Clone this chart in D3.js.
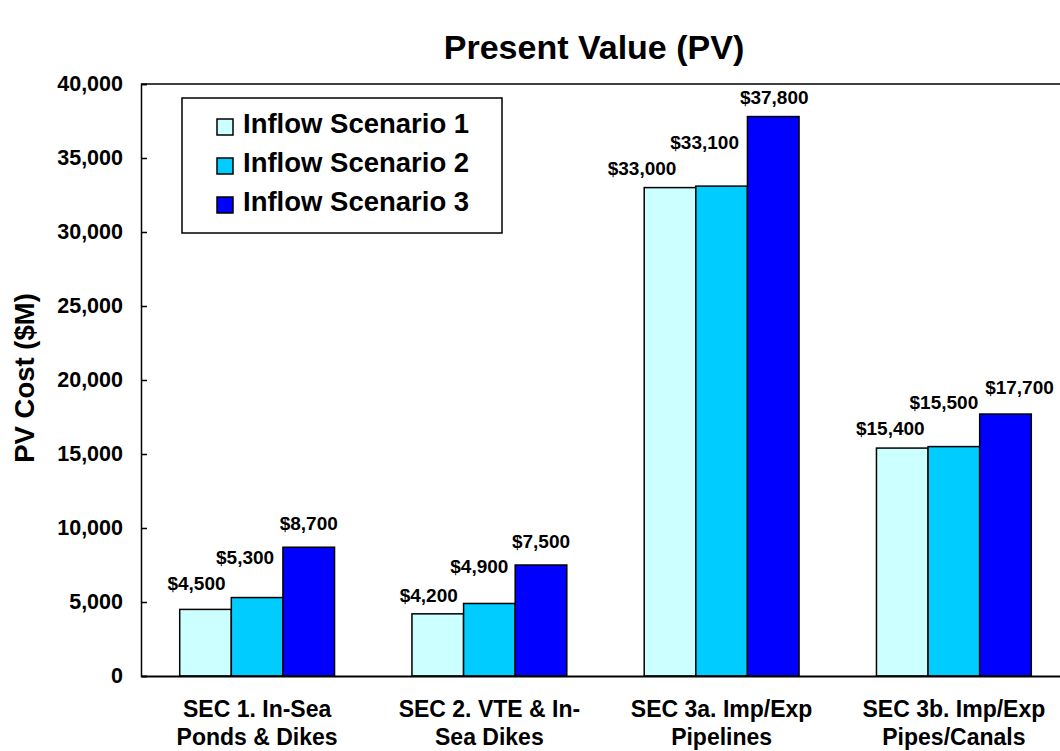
<!DOCTYPE html>
<html>
<head>
<meta charset="utf-8">
<script src="https://cdn.jsdelivr.net/npm/d3@7"></script>
<style>
  body { margin: 0; background: #fff; }
  svg { display: block; font-family: Arial, "Liberation Sans", sans-serif; font-weight: bold; }
</style>
</head>
<body>
<div id="chart"></div>
<script>
// data
var categories = ["SEC 1. In-Sea Ponds & Dikes", "SEC 2. VTE & In-Sea Dikes", "SEC 3a. Imp/Exp Pipelines", "SEC 3b. Imp/Exp Pipes/Canals"];
var categoryLines = [["SEC 1. In-Sea", "Ponds & Dikes"], ["SEC 2. VTE & In-", "Sea Dikes"], ["SEC 3a. Imp/Exp", "Pipelines"], ["SEC 3b. Imp/Exp", "Pipes/Canals"]];
var series = ["Inflow Scenario 1", "Inflow Scenario 2", "Inflow Scenario 3"];
var scenario1 = [4500, 4200, 33000, 15400];
var scenario2 = [5300, 4900, 33100, 15500];
var scenario3 = [8700, 7500, 37800, 17700];
var yTicks = [0, 5000, 10000, 15000, 20000, 25000, 30000, 35000, 40000];

var values = [scenario1, scenario2, scenario3];
var colors = ["#CCFFFF", "#00CCFF", "#0000FF"];

// label nudges (dx from bar centre, dy from bar top), as placed in the original
var labelNudge = [
  [[-9, -19], [-12, -34], [0, -17]],
  [[-9, -12], [-10, -30], [0, -17]],
  [[-28, -13], [-17, -37], [1, -13]],
  [[-12, -13], [-10, -38], [14, -20]]
];

var width = 1060;
var height = 751;
var plotLeft = 141, plotRight = 1070, plotTop = 84, plotBottom = 676;

var svg = d3.select("#chart")
  .append("svg")
  .attr("width", width)
  .attr("height", height);

var x = d3.scaleBand()
  .domain(categories)
  .range([plotLeft, plotRight])
  .paddingInner(1 / 3)
  .paddingOuter(1 / 6);

var xs = d3.scaleBand()
  .domain(series)
  .range([0, x.bandwidth()]);

var y = d3.scaleLinear()
  .domain([0, 40000])
  .range([plotBottom, plotTop]);

// title
svg.append("text")
  .attr("x", 594)
  .attr("y", 59)
  .attr("text-anchor", "middle")
  .style("font-size", "34px")
  .text("Present Value (PV)");

// frame: top line
svg.append("line")
  .attr("x1", plotLeft).attr("x2", plotRight)
  .attr("y1", plotTop).attr("y2", plotTop)
  .attr("stroke", "#000")
  .attr("stroke-width", 1.5);

// bars
var groups = svg.append("g")
  .selectAll("g")
  .data(categories)
  .enter()
  .append("g")
  .attr("transform", function (d) { return "translate(" + x(d) + ",0)"; });

var cells = function (d, i) {
  return series.map(function (s, j) { return { s: s, j: j, i: i, v: values[j][i] }; });
};

groups.selectAll("rect")
  .data(cells)
  .enter()
  .append("rect")
  .attr("x", function (d) { return xs(d.s); })
  .attr("y", function (d) { return y(d.v); })
  .attr("width", xs.bandwidth())
  .attr("height", function (d) { return y(0) - y(d.v); })
  .attr("fill", function (d) { return colors[d.j]; })
  .attr("stroke", "#000")
  .attr("stroke-width", 1.5);

groups.selectAll("text.val")
  .data(cells)
  .enter()
  .append("text")
  .attr("class", "val")
  .attr("x", function (d) { return xs(d.s) + xs.bandwidth() / 2 + labelNudge[d.i][d.j][0]; })
  .attr("y", function (d) { return y(d.v) + labelNudge[d.i][d.j][1]; })
  .attr("text-anchor", "middle")
  .style("font-size", "19px")
  .text(function (d) { return "$" + d3.format(",")(d.v); });

// y axis
var yAxis = d3.axisLeft(y)
  .tickValues(yTicks)
  .tickFormat(d3.format(","))
  .tickSize(-6)
  .tickPadding(18);

var gy = svg.append("g")
  .attr("transform", "translate(" + plotLeft + ",0)")
  .call(yAxis);
gy.select(".domain").attr("stroke-width", 1.5);
gy.selectAll(".tick line").attr("stroke-width", 1.5);
gy.selectAll(".tick text")
  .attr("fill", "#000")
  .style("font-family", "Arial, 'Liberation Sans', sans-serif")
  .style("font-weight", "bold")
  .style("font-size", "21.5px");

// x axis baseline and category labels
var xAxis = d3.axisBottom(x).tickSize(0).tickFormat("");
var gx = svg.append("g")
  .attr("transform", "translate(0," + plotBottom + ")")
  .call(xAxis);
gx.select(".domain").attr("stroke-width", 2);

categories.forEach(function (c, i) {
  var t = svg.append("text")
    .attr("text-anchor", "middle")
    .style("font-size", "23px");
  categoryLines[i].forEach(function (line, k) {
    t.append("tspan")
      .attr("x", x(c) + x.bandwidth() / 2)
      .attr("y", 717 + k * 27.5)
      .text(line);
  });
});

// y axis title
svg.append("text")
  .attr("transform", "translate(34,378) rotate(-90)")
  .attr("text-anchor", "middle")
  .style("font-size", "27.5px")
  .text("PV Cost ($M)");

// legend
var legend = svg.append("g").attr("transform", "translate(182,98)");
legend.append("rect")
  .attr("width", 320)
  .attr("height", 135)
  .attr("fill", "#fff")
  .attr("stroke", "#000")
  .attr("stroke-width", 1.5);

var items = legend.selectAll("g.item")
  .data(series)
  .enter()
  .append("g")
  .attr("class", "item")
  .attr("transform", function (d, i) { return "translate(0," + (35 + i * 39) + ")"; });

items.append("rect")
  .attr("x", 35)
  .attr("y", -14)
  .attr("width", 16)
  .attr("height", 16)
  .attr("fill", function (d, i) { return colors[i]; })
  .attr("stroke", "#000")
  .attr("stroke-width", 1.5);

items.append("text")
  .attr("x", 61)
  .attr("y", 0)
  .style("font-size", "27.5px")
  .text(function (d) { return d; });
</script>
</body>
</html>
